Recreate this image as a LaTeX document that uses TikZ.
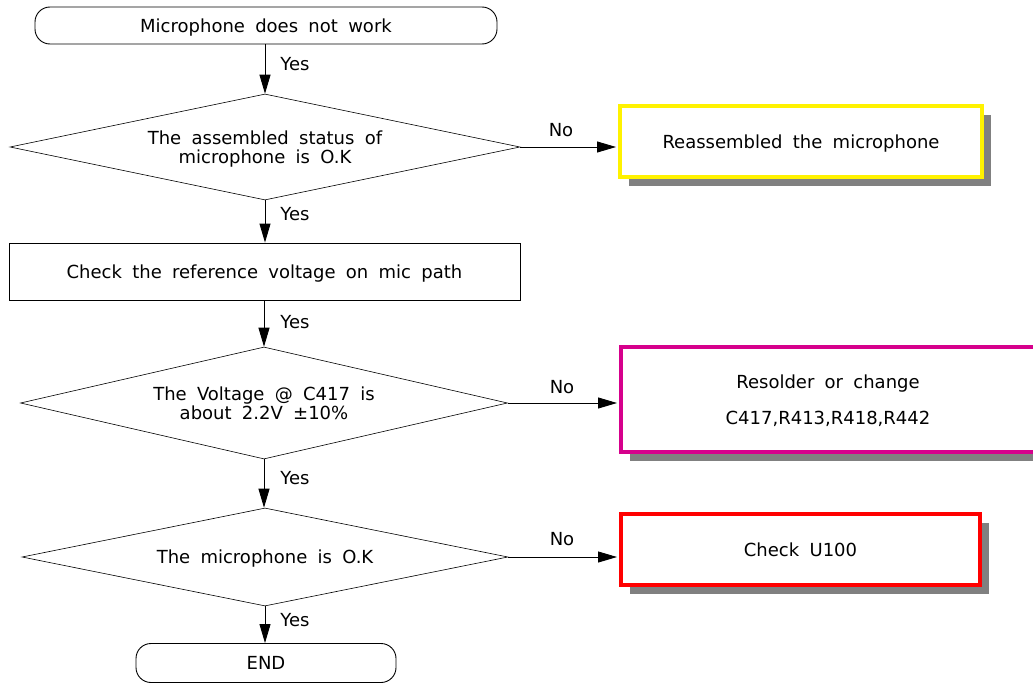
\documentclass[tikz,border=0pt]{standalone}
\usepackage{fontspec}
\setmainfont[WordSpace=1.8]{DejaVu Sans}
\usetikzlibrary{shapes.geometric,arrows.meta,shadows,calc}
\definecolor{magbox}{RGB}{214,0,140}
\begin{document}
\begin{tikzpicture}[x=1pt,y=-1pt,
  every node/.style={font=\fontsize{18}{18.5}\selectfont, inner sep=0pt, text=black, text depth=0pt},
  term/.style={draw, line width=0.9pt, rounded corners=15pt, minimum width=#1, minimum height=37pt},
  decide/.style={draw, diamond, line width=0.6pt, align=center},
  procbox/.style={draw, line width=0.9pt, minimum width=511pt, minimum height=57pt},
  actbox/.style={draw=#1, line width=4pt, fill=white, align=center,
     drop shadow={shadow xshift=9pt, shadow yshift=-9pt, fill=black!50, opacity=1}},
  flow/.style={line width=0.9pt, -{Triangle[length=19pt,width=11pt]}},
  lbl/.style={font=\fontsize{18}{18.5}\selectfont}
]
\useasboundingbox (0,0) rectangle (1033,685);
\clip (0,0) rectangle (1033,685);
\fill[white] (0,0) rectangle (1033,685);

% main column
\node[term=462pt] (start) at (266,25.5) {Microphone does not work};
\node[decide, aspect=4.81, minimum width=510pt, minimum height=106pt] (d1) at (265,147) {The assembled status of\\microphone is O.K};
\node[procbox] (chk) at (264.5,271.5) {Check the reference voltage on mic path};
\node[decide, aspect=4.35, minimum width=487pt, minimum height=112pt] (d2) at (264,403) {The Voltage @ C417 is\\about 2.2V ±10\%};
\node[decide, aspect=4.96, minimum width=486pt, minimum height=98pt] (d3) at (265,557) {The microphone is O.K};
\node[term=260pt, minimum height=39pt] (end) at (266,663) {END};

% action boxes
\node[actbox=yellow, minimum width=362pt, minimum height=71pt] (ya) at (801,141.5) {Reassembled the microphone};
\node[actbox=magbox, minimum width=414pt, minimum height=105pt] (ma) at (828,399.5) {Resolder or change\\[17.5pt]C417,R413,R418,R442};
\node[actbox=red, minimum width=359pt, minimum height=71pt] (ra) at (800.5,549.5) {Check U100};

% vertical connectors
\draw[flow] (start.south -| d1.north) -- (d1.north);
\draw[flow] (d1.south) -- (d1.south |- chk.north);
\draw[flow] (chk.south -| d2.north) -- (d2.north);
\draw[flow] (d2.south) -- (d2.south |- d3.north);
\draw[flow] (d3.south) -- (d3.south |- end.north);

% horizontal connectors
\draw[flow] (d1.east) -- ($(d1.east -| ya.west)+(-2,0)$);
\draw[flow] (d2.east) -- ($(d2.east -| ma.west)+(-2,0)$);
\draw[flow] (d3.east) -- ($(d3.east -| ra.west)+(-2,0)$);

% labels
\node[lbl] (y1) at (295,64) {Yes};
\node[lbl] (y2) at (295,214) {Yes};
\node[lbl] (y3) at (295,322) {Yes};
\node[lbl] (y4) at (295,478) {Yes};
\node[lbl] (y5) at (295,620) {Yes};
\node[lbl] (n1) at (561,130) {No};
\node[lbl] (n2) at (562,387) {No};
\node[lbl] (n3) at (562,539) {No};
\end{tikzpicture}
\end{document}
